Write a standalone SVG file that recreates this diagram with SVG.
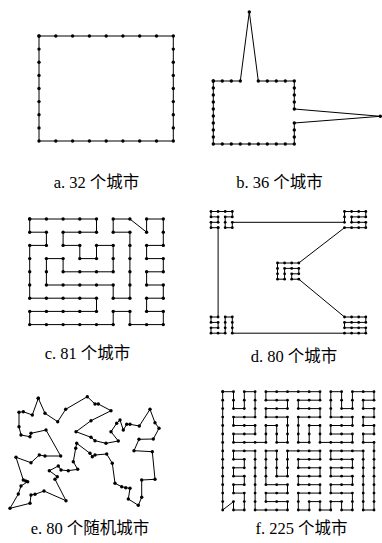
<svg xmlns="http://www.w3.org/2000/svg" width="382" height="543" viewBox="0 0 382 543">
<style>
.tour{fill:none;stroke:#000;stroke-width:1;stroke-linejoin:miter}
.big{marker-start:url(#dot);marker-mid:url(#dot);marker-end:url(#dot)}
.small{marker-start:url(#dots);marker-mid:url(#dots);marker-end:url(#dots)}
.lbl{font-family:"Liberation Serif","Noto Sans CJK SC",serif;font-size:16.5px;fill:#000;text-anchor:middle}
</style>
<defs>
<marker id="dot" markerUnits="userSpaceOnUse" markerWidth="5" markerHeight="5" refX="2.5" refY="2.5" overflow="visible"><circle cx="2.5" cy="2.5" r="1.7" fill="#000"/></marker>
<marker id="dots" markerUnits="userSpaceOnUse" markerWidth="4" markerHeight="4" refX="2" refY="2" overflow="visible"><circle cx="2" cy="2" r="1.4" fill="#000"/></marker>
</defs>
<rect width="382" height="543" fill="#fff"/>
<g id="connectors">
<g id="panel-a">
<polygon class="tour big" points="39,36 55.8,36 72.6,36 89.4,36 106.2,36 122.9,36 139.7,36 156.5,36 173.3,36 173.3,49.1 173.3,62.3 173.3,75.4 173.3,88.5 173.3,101.6 173.3,114.8 173.3,127.9 173.3,141 156.5,141 139.7,141 122.9,141 106.2,141 89.4,141 72.6,141 55.8,141 39,141 39,127.9 39,114.8 39,101.6 39,88.5 39,75.4 39,62.3 39,49.1"/>
</g>
<g id="panel-b">
<polygon class="tour big" points="213.3,81 222.3,81 231.3,81 240.3,81 249.3,12 258.3,81 267.3,81 276.3,81 285.3,81 294.3,81 294.3,88 294.3,95 294.3,102 294.3,109 380.3,116.3 294.3,123 294.3,130 294.3,137 294.3,144 285.3,144 276.3,144 267.3,144 258.3,144 249.3,144 240.3,144 231.3,144 222.3,144 213.3,144 213.3,137 213.3,130 213.3,123 213.3,116 213.3,109 213.3,102 213.3,95 213.3,88"/>
</g>
<g id="panel-c">
<polygon class="tour big" points="29.7,219 46.4,219 63.1,219 79.8,219 96.5,219 96.5,232.2 79.8,232.2 63.1,232.2 63.1,245.4 79.8,245.4 79.8,258.6 96.5,258.6 96.5,245.4 113.2,245.4 113.2,258.6 113.2,271.8 96.5,271.8 79.8,271.8 63.1,271.8 63.1,258.6 46.4,258.6 46.4,271.8 46.4,285 63.1,285 79.8,285 96.5,285 113.2,285 113.2,298.2 129.9,298.2 129.9,285 129.9,271.8 129.9,258.6 129.9,245.4 129.9,232.2 113.2,232.2 113.2,219 129.9,219 146.6,232.2 146.6,219 163.3,219 163.3,232.2 163.3,245.4 146.6,245.4 146.6,258.6 163.3,258.6 163.3,271.8 146.6,271.8 146.6,285 163.3,285 163.3,298.2 146.6,298.2 146.6,311.4 163.3,311.4 163.3,324.6 146.6,324.6 129.9,324.6 129.9,311.4 113.2,311.4 113.2,324.6 96.5,324.6 79.8,324.6 63.1,324.6 46.4,324.6 29.7,324.6 29.7,311.4 46.4,311.4 63.1,311.4 79.8,311.4 96.5,311.4 96.5,298.2 79.8,298.2 63.1,298.2 46.4,298.2 29.7,298.2 29.7,285 29.7,271.8 29.7,258.6 29.7,245.4 46.4,245.4 46.4,232.2 29.7,232.2"/>
</g>
<g id="panel-d">
<polygon class="tour small" points="218.1,227.7 211,227.7 211,222.3 218.1,222.3 218.1,216.9 211,216.9 211,211.5 218.1,211.5 225.2,211.5 232.3,211.5 232.3,216.9 225.2,216.9 225.2,222.3 225.2,227.7 232.3,227.7 232.3,222.3 344.5,222.3 344.5,216.9 344.5,211.5 351.6,211.5 358.7,211.5 365.8,211.5 365.8,216.9 358.7,216.9 351.6,216.9 351.6,222.3 358.7,222.3 365.8,222.3 365.8,227.7 358.7,227.7 351.6,227.7 344.5,227.7 298.8,263 291.7,263 284.6,263 277.5,263 277.5,268.4 277.5,273.8 277.5,279.2 284.6,279.2 284.6,273.8 284.6,268.4 291.7,268.4 298.8,268.4 298.8,273.8 291.7,273.8 291.7,279.2 298.8,279.2 344.5,317 351.6,317 358.7,317 365.8,317 365.8,322.4 358.7,322.4 351.6,322.4 344.5,322.4 344.5,327.8 351.6,327.8 358.7,327.8 365.8,327.8 365.8,333.2 358.7,333.2 351.6,333.2 344.5,333.2 232.3,333.2 232.3,327.8 232.3,322.4 232.3,317 225.2,317 225.2,322.4 225.2,327.8 225.2,333.2 218.1,333.2 211,333.2 211,327.8 218.1,327.8 218.1,322.4 211,322.4 211,317 218.1,317"/>
</g>
<g id="panel-e">
<polygon class="tour big" points="38.3,398.3 32.3,415 23.3,411.7 19,412.3 19,426.7 21,435 30,436.7 31,433.3 46,430 60.7,456 45,456 39.3,455 31,462.7 16,457.3 23.3,480 25.7,481 27.7,481.7 21,486 18.3,494 10,508.3 30,503.3 31,495 35,494.3 44,491 66,500.7 55,479.3 57.3,476.7 49.3,470.7 58.3,466 61,470 68.3,470.7 77.7,469.3 73.3,461.7 75.7,448.3 76.7,443.3 90,453.3 92.3,456.7 95,455 106.7,454 112.3,463.3 115,483.3 121.7,486.7 125.7,487.7 130,488.3 128.3,499 138.3,505.3 141.7,497.3 141.7,480 155,479.3 152.3,451.7 134,450.7 139,439.3 153.3,439 159,428.3 155,422.7 150,409.3 139.3,426 130,424.3 126.7,424.3 123.3,430 120,420 116.7,423.3 111,431.7 118.3,441 106,443.3 95,440.7 91,437.3 76,431.7 91,420.7 111,410.7 98.3,404 95,404 87.3,396.7 65.7,409.3 57.7,421.7 45,413.3"/>
</g>
<g id="panel-f">
<polygon class="tour small" points="222.7,391.7 233.5,391.7 233.5,400.2 233.5,408.6 244.3,408.6 244.3,400.2 244.3,391.7 255.1,391.7 255.1,400.2 255.1,408.6 255.1,417.1 244.3,417.1 233.5,417.1 233.5,425.5 244.3,425.5 255.1,425.5 255.1,434 244.3,434 233.5,434 233.5,442.4 244.3,442.4 255.1,442.4 265.9,442.4 265.9,434 265.9,425.5 276.7,425.5 276.7,434 276.7,442.4 287.5,442.4 287.5,434 287.5,425.5 287.5,417.1 276.7,417.1 265.9,417.1 265.9,408.6 276.7,408.6 287.5,408.6 287.5,400.2 276.7,400.2 265.9,400.2 265.9,391.7 276.7,391.7 287.5,391.7 298.3,391.7 309.2,391.7 320,391.7 320,400.2 309.2,400.2 298.3,400.2 298.3,408.6 309.2,408.6 320,408.6 320,417.1 309.2,417.1 298.3,417.1 298.3,425.5 298.3,434 298.3,442.4 309.2,442.4 309.2,434 309.2,425.5 320,425.5 320,434 320,442.4 330.8,442.4 341.6,442.4 352.4,442.4 352.4,434 341.6,434 330.8,434 330.8,425.5 341.6,425.5 352.4,425.5 352.4,417.1 341.6,417.1 330.8,417.1 330.8,408.6 330.8,400.2 330.8,391.7 341.6,391.7 341.6,400.2 341.6,408.6 352.4,408.6 352.4,400.2 352.4,391.7 363.2,391.7 374,391.7 374,400.2 363.2,400.2 363.2,408.6 374,408.6 374,417.1 363.2,417.1 363.2,425.5 374,425.5 374,434 363.2,434 363.2,442.4 374,442.4 374,450.9 374,459.3 374,467.8 374,476.2 374,484.7 374,493.1 374,501.6 374,510 363.2,510 363.2,501.6 363.2,493.1 363.2,484.7 363.2,476.2 363.2,467.8 363.2,459.3 363.2,450.9 352.4,450.9 341.6,450.9 330.8,450.9 330.8,459.3 341.6,459.3 352.4,459.3 352.4,467.8 341.6,467.8 330.8,467.8 330.8,476.2 341.6,476.2 352.4,476.2 352.4,484.7 341.6,484.7 330.8,484.7 330.8,493.1 341.6,493.1 352.4,493.1 352.4,501.6 352.4,510 341.6,510 341.6,501.6 330.8,501.6 330.8,510 320,510 320,501.6 309.2,501.6 309.2,510 298.3,510 298.3,501.6 298.3,493.1 309.2,493.1 320,493.1 320,484.7 309.2,484.7 298.3,484.7 298.3,476.2 309.2,476.2 320,476.2 320,467.8 309.2,467.8 298.3,467.8 298.3,459.3 309.2,459.3 320,459.3 320,450.9 309.2,450.9 298.3,450.9 287.5,450.9 287.5,459.3 287.5,467.8 287.5,476.2 276.7,476.2 276.7,467.8 276.7,459.3 276.7,450.9 265.9,450.9 265.9,459.3 265.9,467.8 265.9,476.2 265.9,484.7 276.7,484.7 287.5,484.7 287.5,493.1 276.7,493.1 265.9,493.1 265.9,501.6 276.7,501.6 287.5,501.6 287.5,510 276.7,510 265.9,510 255.1,510 255.1,501.6 255.1,493.1 255.1,484.7 255.1,476.2 255.1,467.8 255.1,459.3 255.1,450.9 244.3,450.9 233.5,450.9 233.5,459.3 244.3,459.3 244.3,467.8 233.5,467.8 233.5,476.2 244.3,476.2 244.3,484.7 233.5,484.7 233.5,493.1 244.3,493.1 244.3,501.6 244.3,510 233.5,510 233.5,501.6 222.7,510 222.7,501.6 222.7,493.1 222.7,484.7 222.7,476.2 222.7,467.8 222.7,459.3 222.7,450.9 222.7,442.4 222.7,434 222.7,425.5 222.7,417.1 222.7,408.6 222.7,400.2"/>
</g>
</g>
<g id="labels">
<text id="label-a" class="lbl" x="96.5" y="188">a. 32 个城市</text>
<text id="label-b" class="lbl" x="279.5" y="188">b. 36 个城市</text>
<text id="label-c" class="lbl" x="87.5" y="359">c. 81 个城市</text>
<text id="label-d" class="lbl" x="294" y="362">d. 80 个城市</text>
<text id="label-e" class="lbl" x="90" y="534">e. 80 个随机城市</text>
<text id="label-f" class="lbl" x="301.5" y="534">f. 225 个城市</text>
</g>
</svg>
